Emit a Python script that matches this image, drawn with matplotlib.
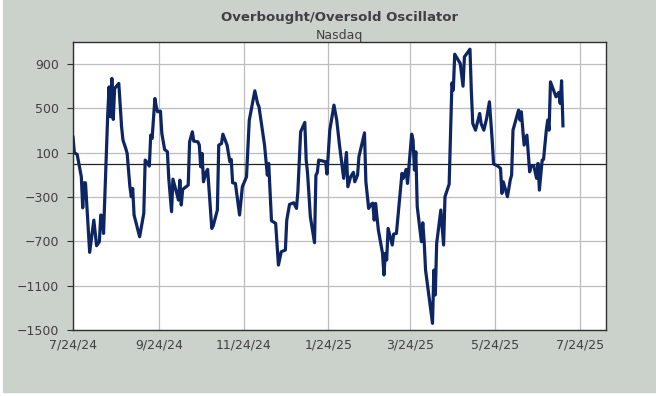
import numpy as np
import matplotlib
matplotlib.use("Agg")
import matplotlib.pyplot as plt
import pandas as pd

# readings of the oscillator (date, value)
dates = [
    "2024-07-24", "2024-07-25", "2024-07-27", "2024-07-30", "2024-07-31", "2024-08-01", "2024-08-02",
    "2024-08-05", "2024-08-08", "2024-08-10", "2024-08-12", "2024-08-13", "2024-08-14", "2024-08-15",
    "2024-08-18", "2024-08-19", "2024-08-20", "2024-08-21", "2024-08-22", "2024-08-23", "2024-08-26",
    "2024-08-28", "2024-08-29", "2024-08-31", "2024-09-01", "2024-09-03", "2024-09-04", "2024-09-05",
    "2024-09-06", "2024-09-10", "2024-09-13", "2024-09-14", "2024-09-15", "2024-09-17", "2024-09-18",
    "2024-09-19", "2024-09-21", "2024-09-22", "2024-09-23", "2024-09-25", "2024-09-26", "2024-09-28",
    "2024-09-30", "2024-10-01", "2024-10-03", "2024-10-04", "2024-10-08", "2024-10-09", "2024-10-10",
    "2024-10-11", "2024-10-15", "2024-10-16", "2024-10-18", "2024-10-19", "2024-10-22", "2024-10-23",
    "2024-10-24", "2024-10-25", "2024-10-26", "2024-10-28", "2024-10-29", "2024-11-01", "2024-11-02",
    "2024-11-05", "2024-11-06", "2024-11-08", "2024-11-09", "2024-11-12", "2024-11-14", "2024-11-15",
    "2024-11-16", "2024-11-18", "2024-11-21", "2024-11-23", "2024-11-26", "2024-11-28", "2024-12-02",
    "2024-12-04", "2024-12-05", "2024-12-09", "2024-12-11", "2024-12-12", "2024-12-14", "2024-12-17",
    "2024-12-19", "2024-12-21", "2024-12-24", "2024-12-25", "2024-12-27", "2024-12-30", "2025-01-01",
    "2025-01-02", "2025-01-04", "2025-01-07", "2025-01-08", "2025-01-09", "2025-01-11", "2025-01-14",
    "2025-01-15", "2025-01-16", "2025-01-17", "2025-01-22", "2025-01-23", "2025-01-25", "2025-01-28",
    "2025-01-30", "2025-02-01", "2025-02-04", "2025-02-06", "2025-02-07", "2025-02-09", "2025-02-11",
    "2025-02-12", "2025-02-14", "2025-02-15", "2025-02-19", "2025-02-20", "2025-02-22", "2025-02-24",
    "2025-02-25", "2025-02-26", "2025-02-27", "2025-03-01", "2025-03-04", "2025-03-05", "2025-03-06",
    "2025-03-07", "2025-03-08", "2025-03-11", "2025-03-12", "2025-03-14", "2025-03-18", "2025-03-19",
    "2025-03-21", "2025-03-22", "2025-03-25", "2025-03-26", "2025-03-27", "2025-03-28", "2025-03-29",
    "2025-04-01", "2025-04-02", "2025-04-03", "2025-04-04", "2025-04-09", "2025-04-10", "2025-04-11",
    "2025-04-12", "2025-04-15", "2025-04-17", "2025-04-18", "2025-04-21", "2025-04-23", "2025-04-24",
    "2025-04-25", "2025-04-29", "2025-05-01", "2025-05-02", "2025-05-06", "2025-05-07", "2025-05-08",
    "2025-05-10", "2025-05-13", "2025-05-14", "2025-05-16", "2025-05-18", "2025-05-20", "2025-05-22",
    "2025-05-23", "2025-05-26", "2025-05-28", "2025-05-29", "2025-05-30", "2025-06-02", "2025-06-04",
    "2025-06-05", "2025-06-06", "2025-06-10", "2025-06-11", "2025-06-12", "2025-06-14", "2025-06-16",
    "2025-06-18", "2025-06-19", "2025-06-21", "2025-06-23", "2025-06-24", "2025-06-25", "2025-06-27",
    "2025-06-28", "2025-06-30", "2025-07-01", "2025-07-02", "2025-07-03", "2025-07-07", "2025-07-09",
    "2025-07-10", "2025-07-11", "2025-07-12",
]
values = [
    240, 100, 85, -117, -397, -171, -171,
    -799, -508, -739, -703, -462, -470, -628,
    440, 695, 425, 771, 401, 681, 726,
    334, 214, 139, 95, -207, -297, -222,
    -462, -658, -447, 34, 19, -20, 259,
    230, 590, 515, 470, 476, 275, 130,
    109, -131, -432, -138, -327, -147, -372,
    -231, -192, 199, 289, 205, 199, 169,
    -27, 94, -162, -72, -50, -583, -560,
    -417, 169, 184, 268, 169, 19, 40,
    -171, -177, -462, -207, -117, 395, 659,
    545, 515, 169, -102, 4, -514, -537,
    -914, -794, -778, -508, -366, -351, -402,
    -252, 289, 374, 34, -86, -478, -712,
    -102, -80, 34, 19, -92, 304, 530,
    395, 169, -131, 103, -207, -117, -77,
    -162, -102, 64, 280, -162, -402, -363,
    -355, -508, -357, -598, -808, -1004, -808,
    -868, -583, -733, -634, -628, -86, -131,
    -50, -177, 268, 214, -56, 109, -387,
    -703, -532, -703, -959, -1440, -959, -1184,
    -718, -417, -733, -297, -183, 731, 665,
    990, 906, 701, 966, 1035, 650, 365,
    304, 455, 365, 304, 410, 560, 214,
    0, -20, -41, -267, -162, -297, -147,
    -102, 304, 485, 395, 470, 169, 259,
    -72, -20, -20, -131, 4, -237, 34,
    40, 304, 395, 304, 740, 605, 645,
    545, 750, 343,
]

tick_dates = ["2024-07-24", "2024-09-24", "2024-11-24", "2025-01-24",
              "2025-03-24", "2025-05-24", "2025-07-24"]
tick_labels = ["7/24/24", "9/24/24", "11/24/24", "1/24/25", "3/24/25", "5/24/25", "7/24/25"]
y_ticks = [-1500, -1100, -700, -300, 100, 500, 900]

x = pd.to_datetime(dates)
xt = pd.to_datetime(tick_dates)

bg = "#CBD1CB"
txt = "#404040"

fig = plt.figure(figsize=(6.56, 3.96), dpi=100, facecolor="white")
# chart area of the spreadsheet
fig.patches.append(plt.Rectangle((3 / 656, 4 / 396), 653 / 656, 392 / 396,
                                 transform=fig.transFigure, color=bg, zorder=-5))

ax = fig.add_axes([73 / 656, 1 - 330 / 396, 533 / 656, 288 / 396])
ax.set_facecolor("white")

ax.plot(x, values, color="#0D2563", lw=2.3, zorder=3, solid_joinstyle="round")
ax.axhline(0, color="#222222", lw=0.9, zorder=2)

ax.set_ylim(-1500, 1100)
ax.set_yticks(y_ticks)
ax.set_xlim(pd.Timestamp("2024-07-24"), pd.Timestamp("2025-08-12"))
ax.set_xticks(xt)
ax.set_xticklabels(tick_labels)

ax.grid(True, color="#BDBDBD", lw=0.9, zorder=1)
ax.set_axisbelow(True)
for s in ax.spines.values():
    s.set_color("#303030")
    s.set_linewidth(1.0)

ax.tick_params(axis="y", length=4, width=0.8, color="#303030", labelsize=9, labelcolor=txt, pad=6)
ax.tick_params(axis="x", length=0, labelsize=9, labelcolor=txt, pad=6)

fig.text(339.5 / 656, 1 - 18 / 396, "Overbought/Oversold Oscillator", ha="center", va="center",
         fontsize=9.5, fontweight="bold", color=txt)
fig.text(339.5 / 656, 1 - 35 / 396, "Nasdaq", ha="center", va="center", fontsize=9, color=txt)

fig.savefig("out.png", dpi=100, facecolor=fig.get_facecolor())
